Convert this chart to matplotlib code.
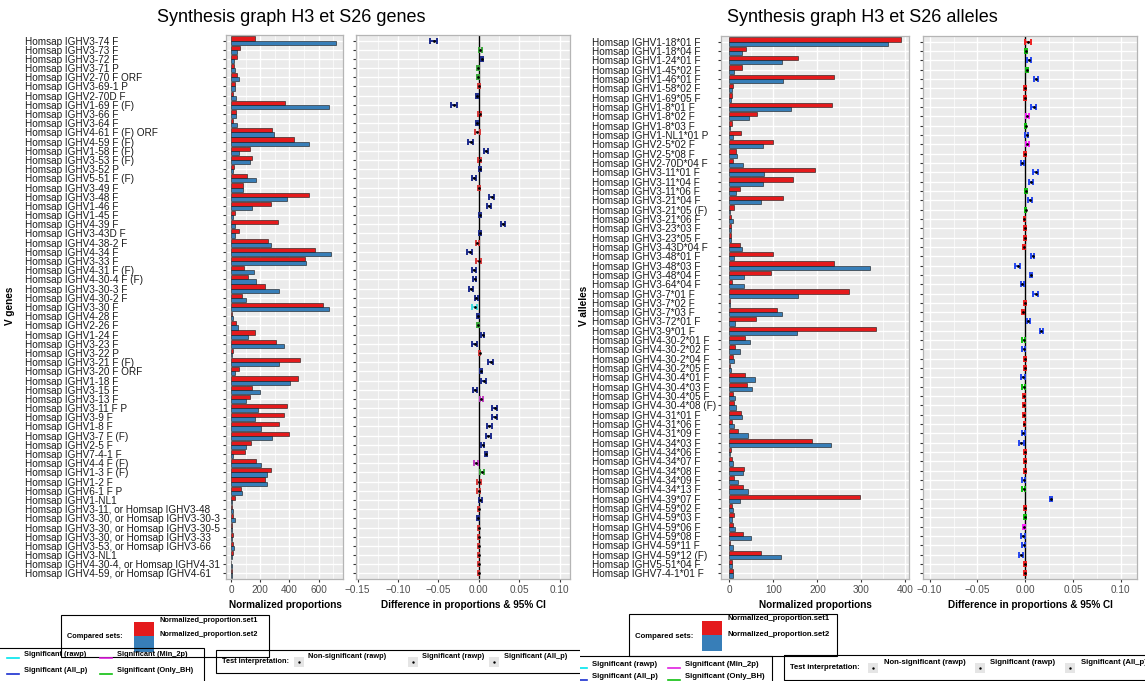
import matplotlib.pyplot as plt
from matplotlib.patches import Rectangle
from matplotlib.ticker import MultipleLocator

plt.rcParams['font.family'] = ['Liberation Sans', 'DejaVu Sans']

W, H = 1145, 681

# ---- genes ----
genes = [
    "Homsap IGHV3-74 F", "Homsap IGHV3-73 F", "Homsap IGHV3-72 F", "Homsap IGHV3-71 P",
    "Homsap IGHV2-70 F ORF", "Homsap IGHV3-69-1 P", "Homsap IGHV2-70D F", "Homsap IGHV1-69 F (F)",
    "Homsap IGHV3-66 F", "Homsap IGHV3-64 F", "Homsap IGHV4-61 F (F) ORF", "Homsap IGHV4-59 F (F)",
    "Homsap IGHV1-58 F (F)", "Homsap IGHV3-53 F (F)", "Homsap IGHV3-52 P", "Homsap IGHV5-51 F (F)",
    "Homsap IGHV3-49 F", "Homsap IGHV3-48 F", "Homsap IGHV1-46 F", "Homsap IGHV1-45 F",
    "Homsap IGHV4-39 F", "Homsap IGHV3-43D F", "Homsap IGHV4-38-2 F", "Homsap IGHV4-34 F",
    "Homsap IGHV3-33 F", "Homsap IGHV4-31 F (F)", "Homsap IGHV4-30-4 F (F)", "Homsap IGHV3-30-3 F",
    "Homsap IGHV4-30-2 F", "Homsap IGHV3-30 F", "Homsap IGHV4-28 F", "Homsap IGHV2-26 F",
    "Homsap IGHV1-24 F", "Homsap IGHV3-23 F", "Homsap IGHV3-22 P", "Homsap IGHV3-21 F (F)",
    "Homsap IGHV3-20 F ORF", "Homsap IGHV1-18 F", "Homsap IGHV3-15 F", "Homsap IGHV3-13 F",
    "Homsap IGHV3-11 F P", "Homsap IGHV3-9 F", "Homsap IGHV1-8 F", "Homsap IGHV3-7 F (F)",
    "Homsap IGHV2-5 F", "Homsap IGHV7-4-1 F", "Homsap IGHV4-4 F (F)", "Homsap IGHV1-3 F (F)",
    "Homsap IGHV1-2 F", "Homsap IGHV6-1 F P", "Homsap IGHV1-NL1",
    "Homsap IGHV3-11, or Homsap IGHV3-48", "Homsap IGHV3-30, or Homsap IGHV3-30-3",
    "Homsap IGHV3-30, or Homsap IGHV3-30-5", "Homsap IGHV3-30, or Homsap IGHV3-33",
    "Homsap IGHV3-53, or Homsap IGHV3-66", "Homsap IGHV3-NL1",
    "Homsap IGHV4-30-4, or Homsap IGHV4-31", "Homsap IGHV4-59, or Homsap IGHV4-61",
]
gene_set1 = [163, 57, 43, 16, 39, 25, 9, 367, 34, 11, 277, 431, 127, 141, 20, 109, 79, 537, 270, 29,
             324, 50, 252, 574, 508, 86, 113, 229, 73, 633, 5, 34, 163, 306, 9, 474, 54, 460, 141, 127,
             383, 361, 331, 395, 134, 93, 168, 272, 231, 66, 25, 7, 14, 5, 9, 14, 9, 1, 5]
gene_set2 = [719, 43, 16, 29, 52, 29, 34, 673, 32, 39, 293, 537, 50, 132, 11, 170, 79, 385, 143, 9,
             29, 29, 270, 685, 515, 156, 168, 331, 102, 669, 11, 45, 118, 361, 2, 329, 25, 406, 200, 102,
             186, 161, 204, 283, 98, 9, 204, 243, 243, 73, 7, 9, 25, 5, 5, 18, 7, 2, 2]
gene_diff = [-0.056, 0.002, 0.004, -0.001, -0.001, 0.000, -0.002, -0.031, 0.001, -0.002,
             -0.002, -0.010, 0.009, 0.001, 0.001, -0.006, 0.000, 0.016, 0.013, 0.002,
             0.030, 0.002, -0.002, -0.011, 0.000, -0.006, -0.005, -0.009, -0.003, -0.005,
             -0.001, -0.001, 0.005, -0.005, 0.001, 0.015, 0.003, 0.006, -0.005, 0.003,
             0.020, 0.020, 0.013, 0.012, 0.005, 0.009, -0.003, 0.004, 0.000, 0.000,
             0.002, 0.000, -0.001, 0.000, 0.000, 0.000, 0.000, 0.000, 0.000]
gene_ci = [0.0045, 0.0015, 0.0015, 0.0015, 0.0015, 0.0015, 0.0015, 0.0035, 0.0015, 0.0015,
           0.003, 0.003, 0.002, 0.002, 0.0012, 0.0025, 0.0015, 0.003, 0.0025, 0.0012,
           0.002, 0.0012, 0.002, 0.003, 0.003, 0.002, 0.002, 0.0025, 0.002, 0.003,
           0.0015, 0.0015, 0.002, 0.003, 0.0008, 0.003, 0.0015, 0.003, 0.0025, 0.002,
           0.003, 0.003, 0.003, 0.003, 0.002, 0.0012, 0.0025, 0.0025, 0.0025, 0.002,
           0.0015, 0.0008, 0.0012, 0.0008, 0.0008, 0.0008, 0.0008, 0.0008, 0.0008]
# ns = non-significant, raw = rawp, all = All_p, min2 = Min_2p, bh = Only_BH
gene_sig = ["all", "bh", "all", "bh", "bh", "ns", "all", "all", "ns", "all",
            "ns", "all", "all", "ns", "all", "all", "ns", "all", "all", "all",
            "all", "all", "ns", "all", "ns", "all", "all", "all", "all", "raw",
            "all", "bh", "all", "all", "ns", "all", "all", "all", "all", "min2",
            "all", "all", "all", "all", "all", "all", "min2", "bh", "ns", "ns",
            "all", "ns", "all", "ns", "ns", "ns", "ns", "ns", "ns"]

# ---- alleles ----
alleles = [
    "Homsap IGHV1-18*01 F", "Homsap IGHV1-18*04 F", "Homsap IGHV1-24*01 F", "Homsap IGHV1-45*02 F",
    "Homsap IGHV1-46*01 F", "Homsap IGHV1-58*02 F", "Homsap IGHV1-69*05 F", "Homsap IGHV1-8*01 F",
    "Homsap IGHV1-8*02 F", "Homsap IGHV1-8*03 F", "Homsap IGHV1-NL1*01 P", "Homsap IGHV2-5*02 F",
    "Homsap IGHV2-5*08 F", "Homsap IGHV2-70D*04 F", "Homsap IGHV3-11*01 F", "Homsap IGHV3-11*04 F",
    "Homsap IGHV3-11*06 F", "Homsap IGHV3-21*04 F", "Homsap IGHV3-21*05 (F)", "Homsap IGHV3-21*06 F",
    "Homsap IGHV3-23*03 F", "Homsap IGHV3-23*05 F", "Homsap IGHV3-43D*04 F", "Homsap IGHV3-48*01 F",
    "Homsap IGHV3-48*03 F", "Homsap IGHV3-48*04 F", "Homsap IGHV3-64*04 F", "Homsap IGHV3-7*01 F",
    "Homsap IGHV3-7*02 F", "Homsap IGHV3-7*03 F", "Homsap IGHV3-72*01 F", "Homsap IGHV3-9*01 F",
    "Homsap IGHV4-30-2*01 F", "Homsap IGHV4-30-2*02 F", "Homsap IGHV4-30-2*04 F", "Homsap IGHV4-30-2*05 F",
    "Homsap IGHV4-30-4*01 F", "Homsap IGHV4-30-4*03 F", "Homsap IGHV4-30-4*05 F", "Homsap IGHV4-30-4*08 (F)",
    "Homsap IGHV4-31*01 F", "Homsap IGHV4-31*06 F", "Homsap IGHV4-31*09 F", "Homsap IGHV4-34*03 F",
    "Homsap IGHV4-34*06 F", "Homsap IGHV4-34*07 F", "Homsap IGHV4-34*08 F", "Homsap IGHV4-34*09 F",
    "Homsap IGHV4-34*13 F", "Homsap IGHV4-39*07 F", "Homsap IGHV4-59*02 F", "Homsap IGHV4-59*03 F",
    "Homsap IGHV4-59*06 F", "Homsap IGHV4-59*08 F", "Homsap IGHV4-59*11 F", "Homsap IGHV4-59*12 (F)",
    "Homsap IGHV5-51*04 F", "Homsap IGHV7-4-1*01 F",
]
allele_set1 = [389, 38, 157, 29, 237, 8, 6, 234, 63, 6, 27, 99, 15, 8, 194, 145, 24, 122, 10, 4,
               4, 3, 24, 99, 237, 95, 6, 271, 2, 108, 61, 333, 36, 12, 8, 2, 36, 39, 8, 11,
               26, 7, 20, 187, 4, 6, 33, 10, 32, 297, 6, 11, 8, 31, 2, 71, 5, 8]
allele_set2 = [361, 28, 119, 10, 121, 6, 4, 141, 45, 2, 8, 76, 17, 32, 79, 76, 16, 71, 2, 8,
               3, 4, 29, 10, 320, 33, 33, 157, 2, 119, 12, 153, 48, 24, 11, 4, 58, 52, 12, 16,
               29, 10, 42, 230, 2, 8, 32, 19, 43, 24, 8, 5, 12, 50, 8, 117, 6, 8]
allele_diff = [0.003, 0.001, 0.004, 0.0015, 0.011, 0.0, 0.0, 0.009, 0.002, 0.0003,
               0.0015, 0.002, 0.0, -0.003, 0.011, 0.006, 0.001, 0.005, 0.0003, -0.001,
               0.0, 0.0, -0.001, 0.008, -0.008, 0.006, -0.003, 0.011, 0.0, -0.0025,
               0.003, 0.017, -0.0015, -0.0015, 0.0, 0.0, -0.002, -0.0015, -0.001, -0.001,
               -0.001, -0.001, -0.002, -0.004, 0.0, 0.0, 0.0, -0.0015, -0.0015, 0.027,
               0.0, 0.0, -0.001, -0.002, -0.0015, -0.0045, 0.0, 0.0]
allele_ci = [0.003, 0.001, 0.002, 0.001, 0.002, 0.001, 0.001, 0.0025, 0.0015, 0.0008,
             0.0015, 0.0015, 0.001, 0.0015, 0.0025, 0.002, 0.001, 0.002, 0.001, 0.0008,
             0.001, 0.0008, 0.001, 0.0015, 0.0025, 0.0015, 0.0015, 0.0025, 0.0008, 0.001,
             0.0015, 0.002, 0.0015, 0.0015, 0.0008, 0.0008, 0.002, 0.0015, 0.001, 0.001,
             0.001, 0.0008, 0.0015, 0.0025, 0.0008, 0.0008, 0.001, 0.0015, 0.0015, 0.0015,
             0.0008, 0.001, 0.001, 0.002, 0.0015, 0.0025, 0.0008, 0.001]
allele_sig = ["ns", "bh", "all", "bh", "all", "ns", "ns", "all", "min2", "bh",
              "all", "min2", "ns", "all", "all", "all", "bh", "all", "bh", "ns",
              "ns", "ns", "ns", "all", "all", "all", "all", "all", "ns", "ns",
              "all", "all", "bh", "all", "ns", "ns", "all", "bh", "ns", "ns",
              "ns", "ns", "all", "all", "ns", "ns", "ns", "all", "bh", "all",
              "ns", "bh", "min2", "all", "all", "all", "ns", "ns"]

RED, BLUE = "#E41A1C", "#377EB8"
left_cols = {"ns": "#d63a3a", "raw": "#3fdede", "all": "#1c2a8c", "min2": "#c23cc2", "bh": "#3aa83a"}
right_cols = {"ns": "#ee2020", "raw": "#00e5ee", "all": "#2446f0", "min2": "#ff20ff", "bh": "#10c010"}

fig = plt.figure(figsize=(W / 100, H / 100), dpi=100)


def px_axes(x0, y0, x1, y1):
    return fig.add_axes([x0 / W, 1 - y1 / H, (x1 - x0) / W, (y1 - y0) / H])


def style_panel(ax, n, major, minor):
    ax.set_facecolor("#EBEBEB")
    for s in ax.spines.values():
        s.set_color("#B5B5B5")
        s.set_linewidth(0.9)
    ax.set_ylim(n - 0.4, -0.6)
    ax.set_yticks(range(n))
    ax.xaxis.set_major_locator(MultipleLocator(major))
    ax.xaxis.set_minor_locator(MultipleLocator(minor))
    ax.grid(True, which="major", color="white", lw=1.0)
    ax.grid(True, which="minor", axis="x", color="white", lw=0.5)
    ax.set_axisbelow(True)
    ax.tick_params(length=2.5, color="#333333", labelsize=7.2, labelcolor="#4D4D4D", pad=1.5)
    ax.tick_params(which="minor", length=0)


def draw_bars(ax, labels, s1, s2, pad):
    y = list(range(len(labels)))
    ax.barh([i - 0.225 for i in y], s1, height=0.45, color=RED, edgecolor="#111111", linewidth=0.4)
    ax.barh([i + 0.225 for i in y], s2, height=0.45, color=BLUE, edgecolor="#111111", linewidth=0.4)
    ax.set_yticklabels(labels, ha="left", fontsize=7.2, color="#1a1a1a")
    ax.tick_params(axis="y", pad=pad)


def draw_diff(ax, diff, ci, sig, cols):
    n = len(diff)
    ax.axvline(0, color="black", lw=1.0, zorder=2)
    for code, col in cols.items():
        idx = [i for i in range(n) if sig[i] == code]
        if not idx:
            continue
        ax.errorbar([diff[i] for i in idx], idx, xerr=[ci[i] for i in idx], fmt="none",
                    ecolor=col, elinewidth=1.4, capsize=2.0, capthick=1.4, zorder=3)
    ax.scatter(diff, range(n), s=4, color="black", linewidths=0, zorder=4)
    ax.set_yticklabels([])


# genes side
ax1 = px_axes(226, 35, 343, 579)
style_panel(ax1, len(genes), 200, 100)
draw_bars(ax1, genes, gene_set1, gene_set2, pad=(226 - 25) / 1.389 - 2.5)
ax1.set_xlim(-36, 768)

ax2 = px_axes(356, 35, 570, 579)
style_panel(ax2, len(genes), 0.05, 0.025)
draw_diff(ax2, gene_diff, gene_ci, gene_sig, left_cols)
ax2.set_xlim(-0.152, 0.113)

# alleles side
ax3 = px_axes(721, 36, 909, 579)
style_panel(ax3, len(alleles), 100, 50)
draw_bars(ax3, alleles, allele_set1, allele_set2, pad=(721 - 592) / 1.389 - 2.5)
ax3.set_xlim(-19, 408)

ax4 = px_axes(923, 36, 1137, 579)
style_panel(ax4, len(alleles), 0.05, 0.025)
draw_diff(ax4, allele_diff, allele_ci, allele_sig, right_cols)
ax4.set_xlim(-0.107, 0.117)

# titles and axis titles
fig.text(291 / W, 1 - 17 / H, "Synthesis graph H3 et S26 genes", fontsize=13, ha="center", va="center")
fig.text(862 / W, 1 - 17 / H, "Synthesis graph H3 et S26 alleles", fontsize=13, ha="center", va="center")
bold = dict(fontsize=7.2, fontweight="bold", ha="center", va="center")
fig.text(10 / W, 1 - 306 / H, "V genes", rotation=90, **bold)
fig.text(584 / W, 1 - 306 / H, "V alleles", rotation=90, **bold)
for xc, txt in [(285, "Normalized proportions"), (463, "Difference in proportions & 95% CI"),
                (815, "Normalized proportions"), (1030, "Difference in proportions & 95% CI")]:
    fig.text(xc / W, 1 - 605 / H, txt, **bold)


def draw_legends(x0, width, cs, sig_right, sig_top, rows, test, keys, texts, size):
    ov = fig.add_axes([x0 / W, 0, width / W, 1])
    ov.set_xlim(0, width)
    ov.set_ylim(H, 0)
    ov.axis("off")
    lg = dict(fontsize=size, fontweight="bold", va="center", ha="left", clip_on=True)

    # compared sets
    cx, cy = cs
    ov.add_patch(Rectangle((cx, cy), 208, 42, fill=False, ec="black", lw=0.8))
    ov.text(cx + 6, cy + 22, "Compared sets:", **lg)
    ov.add_patch(Rectangle((cx + 73, cy + 7), 20, 14, fc=RED, ec="none"))
    ov.add_patch(Rectangle((cx + 73, cy + 21), 20, 16, fc=BLUE, ec="none"))
    ov.text(cx + 98, cy + 5, "Normalized_proportion.set1", **lg)
    ov.text(cx + 98, cy + 20, "Normalized_proportion.set2", **lg)

    # significance colours
    ov.add_patch(Rectangle((sig_right - 230, sig_top), 230, 60, fill=False, ec="black", lw=0.8))
    entries = [(sig_right - 185, rows[0], "#00e5ee", "Significant (rawp)"),
               (sig_right - 185, rows[1], "#1a2fd0", "Significant (All_p)"),
               (sig_right - 92, rows[0], "#e020e0", "Significant (Min_2p)"),
               (sig_right - 92, rows[1], "#10c010", "Significant (Only_BH)")]
    for xe, ye, col, txt in entries:
        ov.plot([xe - 12, xe], [ye, ye], color=col, lw=1.2, clip_on=True)
        ov.text(xe + 5, ye - 4, txt, **lg)

    # test interpretation
    tx, ty0, ty1 = test
    ov.add_patch(Rectangle((tx, ty0), 420, ty1 - ty0, fill=False, ec="black", lw=0.8))
    ov.text(tx + 6, (ty0 + ty1) / 2, "Test interpretation:", **lg)
    for kx, lx, txt in zip(keys, texts, ["Non-significant (rawp)", "Significant (rawp)",
                                         "Significant (All_p)"]):
        ov.add_patch(Rectangle((tx + kx, (ty0 + ty1) / 2 - 5), 10, 10, fc="#E5E5E5", ec="none"))
        ov.scatter([tx + kx + 5], [(ty0 + ty1) / 2], s=3, color="black", linewidths=0, clip_on=True)
        ov.text(tx + lx, (ty0 + ty1) / 2 - 5, txt, **lg)


draw_legends(0, 580, (61, 615), 204, 648, (658, 674), (216, 650, 673),
             (78, 192, 273), (92, 206, 288), 5.3)
draw_legends(580, 565, (49, 614), 192, 656, (668, 680), (204, 655, 680),
             (84, 191, 281), (100, 206, 297), 5.6)

fig.savefig("out.png", dpi=100)
